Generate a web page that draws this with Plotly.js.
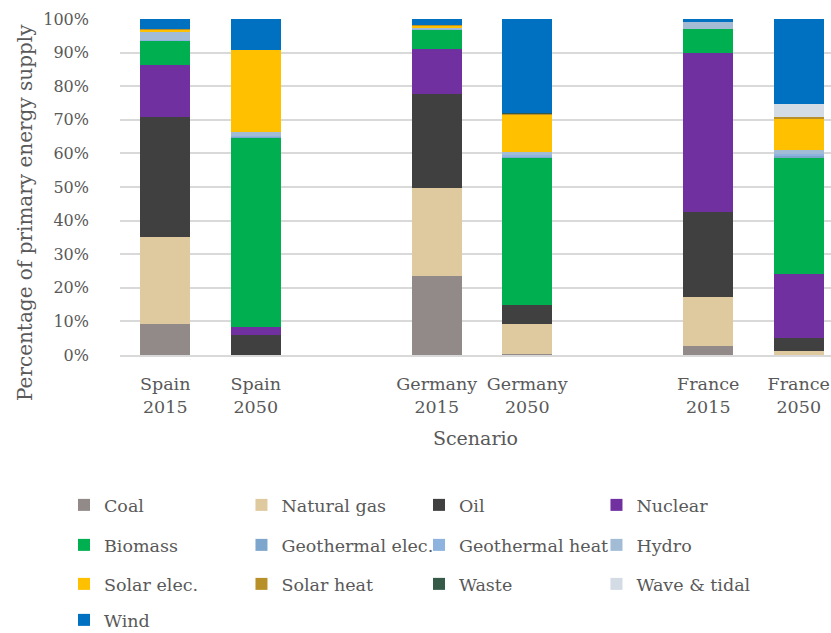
<!DOCTYPE html>
<html>
<head>
<meta charset="utf-8">
<script src="https://cdn.plot.ly/plotly-3.0.1.min.js"></script>
<style>html,body{margin:0;padding:0;background:#fff;}#chart{width:831px;height:633px;}</style>
</head>
<body>
<div id="chart"></div>
<script>
// Scenario categories (gap slots separate the countries)
const scenarios = ["Spain<br>2015", "Spain<br>2050", "Germany<br>2015", "Germany<br>2050", "France<br>2015", "France<br>2050"];
const axisOrder = ["Spain<br>2015", "Spain<br>2050", " ", "Germany<br>2015", "Germany<br>2050", "  ", "France<br>2015", "France<br>2050"];
const yTickVals = [0, 10, 20, 30, 40, 50, 60, 70, 80, 90, 100];
const yTickText = ["0%", "10%", "20%", "30%", "40%", "50%", "60%", "70%", "80%", "90%", "100%"];

// Share of primary energy supply (%) per source, per scenario
const coal           = [9.2, 0.0, 23.6, 0.3, 2.7, 0.0];
const naturalGas     = [26.0, 0.0, 26.0, 8.9, 14.7, 1.3];
const oil            = [35.6, 6.0, 28.1, 5.6, 25.2, 3.7];
const nuclear        = [15.5, 2.4, 13.4, 0.0, 47.2, 19.1];
const biomass        = [7.2, 56.3, 5.9, 43.9, 7.2, 34.8];
const geothermalElec = [0.0, 0.2, 0.0, 0.3, 0.0, 0.2];
const geothermalHeat = [0.3, 0.4, 0.1, 0.5, 0.0, 0.6];
const hydro          = [2.4, 1.2, 0.3, 1.0, 2.1, 1.3];
const solarElec      = [0.6, 24.3, 0.8, 11.2, 0.0, 9.5];
const solarHeat      = [0.1, 0.0, 0.1, 0.2, 0.0, 0.2];
const waste          = [0.0, 0.0, 0.0, 0.1, 0.0, 0.0];
const waveTidal      = [0.0, 0.0, 0.0, 0.0, 0.0, 4.0];
const wind           = [3.1, 9.2, 1.7, 28.0, 0.9, 25.3];

const seriesNames  = ["Coal", "Natural gas", "Oil", "Nuclear", "Biomass", "Geothermal elec.", "Geothermal heat", "Hydro", "Solar elec.", "Solar heat", "Waste", "Wave & tidal", "Wind"];
const seriesValues = [coal, naturalGas, oil, nuclear, biomass, geothermalElec, geothermalHeat, hydro, solarElec, solarHeat, waste, waveTidal, wind];
const seriesColors = ["#918a88", "#dfc99e", "#404040", "#7030a0", "#00b050", "#7ea6cc", "#8db3de", "#a3bcd6", "#ffc000", "#b8902a", "#355a48", "#d3dbe5", "#0070c0"];
const legendRow    = ["legend", "legend", "legend", "legend", "legend2", "legend2", "legend2", "legend2", "legend3", "legend3", "legend3", "legend3", "legend4"];

const FONT = "DejaVu Serif";
const TXT = "#595959";

const traces = seriesNames.map((name, i) => ({
  type: "bar",
  name: name,
  x: scenarios,
  y: seriesValues[i],
  marker: {color: seriesColors[i], line: {width: 0}},
  legend: legendRow[i],
  hoverinfo: "name+y"
}));

const slotPx = 90.5, plotW = 711;
const plotTop = 19, plotH = 336;
function rowY(px) { return 1 - (px - plotTop) / plotH; }
function legendCfg(yPaper) {
  return {
    orientation: "h", x: -0.0788, xanchor: "left", y: yPaper, yanchor: "middle",
    traceorder: "normal", entrywidth: 132.5, entrywidthmode: "pixels",
    itemwidth: 30, itemclick: false, itemdoubleclick: false,
    font: {family: FONT, size: 17.5, color: TXT}, bgcolor: "rgba(0,0,0,0)"
  };
}

const layout = {
  width: 831, height: 633,
  margin: {l: 120, r: 0, t: plotTop, b: 633 - plotTop - plotH, pad: 0, autoexpand: false},
  paper_bgcolor: "#ffffff", plot_bgcolor: "#ffffff",
  barmode: "stack", bargap: 0.45,
  showlegend: true,
  font: {family: FONT, color: TXT, size: 17.5},
  xaxis: {
    type: "category", categoryorder: "array", categoryarray: axisOrder,
    range: [-0.5, -0.5 + plotW / slotPx],
    showgrid: false, showline: true, linecolor: "#d9d9d9", linewidth: 1.5,
    ticks: "", ticklabelstandoff: 12,
    tickfont: {family: FONT, size: 17.5, color: TXT},
    title: {text: "Scenario", font: {family: FONT, size: 19, color: TXT}, standoff: 16},
    automargin: false, fixedrange: true
  },
  yaxis: {
    range: [0, 100], tickmode: "array", tickvals: yTickVals, ticktext: yTickText,
    showgrid: true, gridcolor: "#d9d9d9", gridwidth: 1.5,
    zeroline: false, showline: false, ticks: "", ticklabelstandoff: 30,
    tickfont: {family: FONT, size: 16, color: TXT},
    automargin: false, fixedrange: true
  },
  annotations: [{
    text: "Percentage of primary energy supply", textangle: -90,
    xref: "paper", yref: "paper", x: (25 - 120) / plotW, y: rowY(213),
    xanchor: "center", yanchor: "middle", showarrow: false,
    font: {family: FONT, size: 20, color: TXT}
  }],
  legend: legendCfg(rowY(505)),
  legend2: legendCfg(rowY(545)),
  legend3: legendCfg(rowY(584)),
  legend4: legendCfg(rowY(620))
};

Plotly.newPlot("chart", traces, layout, {displayModeBar: false});
</script>
</body>
</html>
